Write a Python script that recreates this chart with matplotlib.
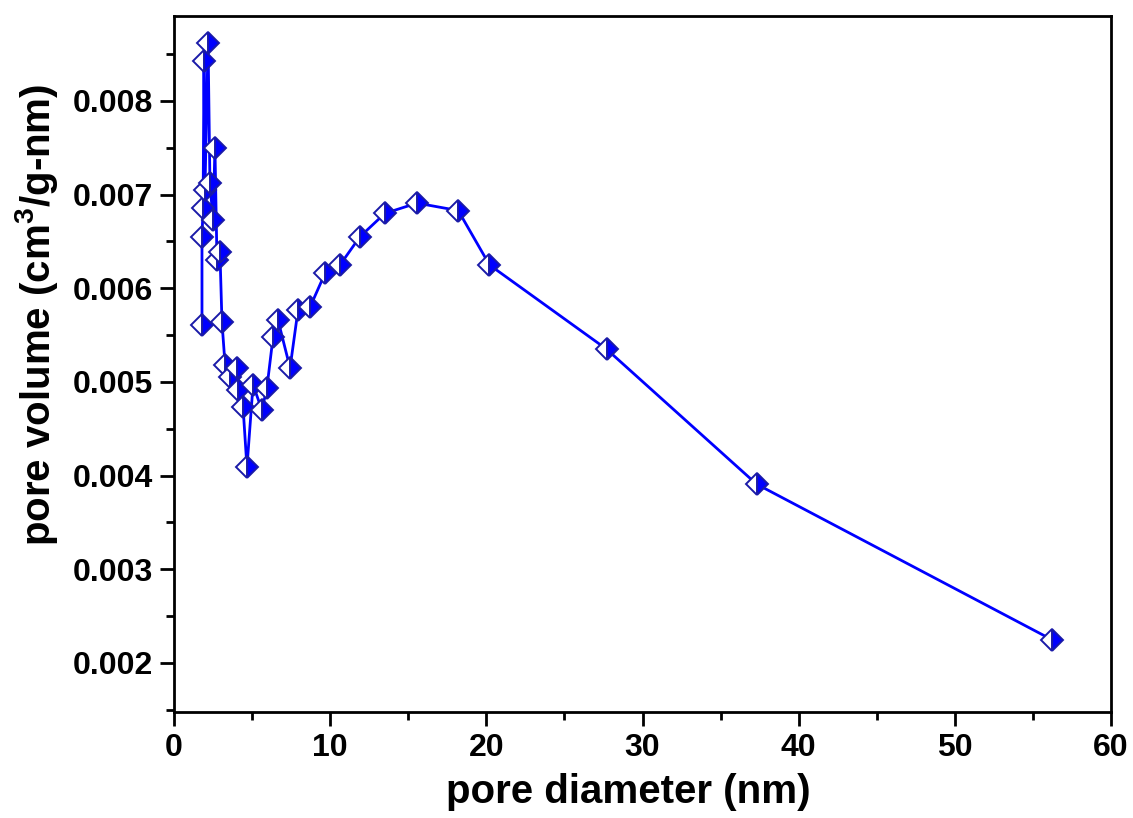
import matplotlib
matplotlib.use('Agg')
import matplotlib.pyplot as plt
from matplotlib.ticker import MultipleLocator

# pore diameter (nm) and pore volume (cm3/g-nm)
diametro = [1.79, 1.79, 1.86, 1.92, 1.98, 2.18, 2.30, 2.50, 2.62, 2.75, 2.94,
            3.07, 3.27, 3.59, 4.03, 4.10, 4.42, 4.67, 5.06, 5.63, 5.95, 6.34,
            6.66, 7.43, 7.94, 8.71, 9.67, 10.63, 11.9, 13.5, 15.56, 18.2,
            20.2, 27.7, 37.3, 56.2]
volume = [0.00561, 0.00655, 0.00686, 0.00843, 0.00705, 0.00862, 0.00712,
          0.00673, 0.00750, 0.00630, 0.00639, 0.00564, 0.00518, 0.00505,
          0.00515, 0.00491, 0.00473, 0.00409, 0.00497, 0.00470, 0.00494,
          0.00548, 0.00566, 0.00515, 0.00577, 0.00580, 0.00616, 0.00625,
          0.00655, 0.00680, 0.00691, 0.00683, 0.00625, 0.00535, 0.00391,
          0.00225]

plt.rcParams['font.family'] = ['Liberation Sans', 'DejaVu Sans']
plt.rcParams['font.weight'] = 'bold'
plt.rcParams['mathtext.default'] = 'regular'

fig = plt.figure(figsize=(11.33, 8.18), dpi=100)
ax = fig.add_axes([0.1536, 0.1296, 0.8270, 0.8508])

ax.plot(diametro, volume, color='#0000ff', lw=2,
        marker='D', markersize=11, fillstyle='right',
        markerfacecolor='#0000ff', markerfacecoloralt='white',
        markeredgecolor='#1a1aa8', markeredgewidth=1.4)

ax.set_xlim(0, 60)
ax.set_ylim(0.001477, 0.008907)
ax.xaxis.set_major_locator(MultipleLocator(10))
ax.xaxis.set_minor_locator(MultipleLocator(5))
ax.yaxis.set_major_locator(MultipleLocator(0.001))
ax.yaxis.set_minor_locator(MultipleLocator(0.0005))
ax.yaxis.set_major_formatter(plt.FuncFormatter(lambda v, p: f'{v:.3f}'))

for s in ax.spines.values():
    s.set_linewidth(2)
ax.tick_params(which='major', direction='out', length=10, width=2,
               labelsize=23, pad=5)
ax.tick_params(which='minor', direction='out', length=6, width=2)

ax.set_xlabel('pore diameter (nm)', fontsize=29, fontweight='bold')
ax.xaxis.set_label_coords(0.4845, -0.087)
ax.set_ylabel('pore volume (cm$^{3}$/g-nm)', fontsize=29, fontweight='bold')
ax.yaxis.set_label_coords(-0.122, 0.57)

fig.savefig('out.png', dpi=100)
